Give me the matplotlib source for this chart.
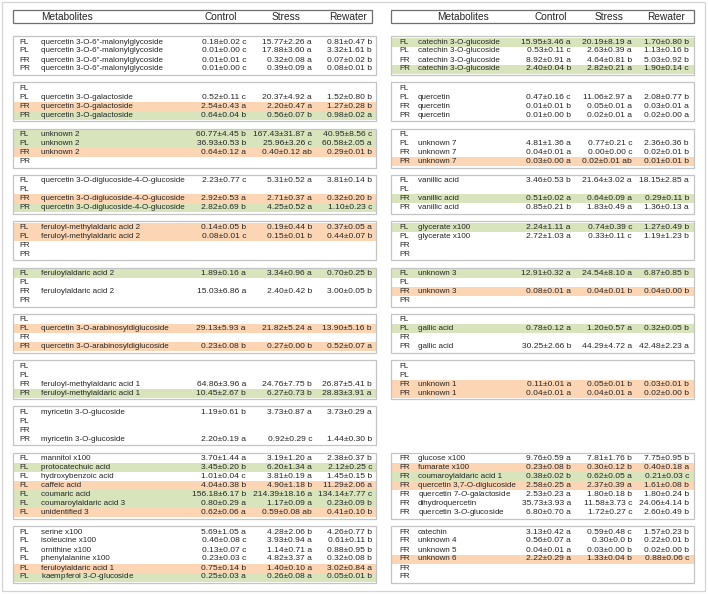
import matplotlib.pyplot as plt
from matplotlib.patches import Rectangle

# =============================================================================
# Table data
# =============================================================================
columns = ["Control", "Stress", "Rewater"]

# rows per block (same block slots on both sides)
left_group_sizes = [4, 4, 4, 4, 4, 4, 4, 4, 4, 7, 6]
right_group_sizes = [4, 4, 4, 4, 4, 4, 4, 4, 0, 7, 6]

left_code = ["FL", "PL", "FR", "PR"] * 9 + ["FL"] * 7 + ["PL"] * 6
left_name = (['quercetin 3-O-6"-malonylglycoside'] * 4
             + ["", "quercetin 3-O-galactoside", "quercetin 3-O-galactoside", "quercetin 3-O-galactoside"]
             + ["unknown 2", "unknown 2", "unknown 2", ""]
             + ["quercetin 3-O-diglucoside-4-O-glucoside", "", "quercetin 3-O-diglucoside-4-O-glucoside",
                "quercetin 3-O-diglucoside-4-O-glucoside"]
             + ["feruloyl-methylaldaric acid 2", "feruloyl-methylaldaric acid 2", "", ""]
             + ["feruloylaldaric acid 2", "", "feruloylaldaric acid 2", ""]
             + ["", "quercetin 3-O-arabinosyldiglucoside", "", "quercetin 3-O-arabinosyldiglucoside"]
             + ["", "", "feruloyl-methylaldaric acid 1", "feruloyl-methylaldaric acid 1"]
             + ["myricetin 3-O-glucoside", "", "", "myricetin 3-O-glucoside"]
             + ["mannitol x100", "protocatechuic acid", "hydroxybenzoic acid", "caffeic acid",
                "coumaric acid", "coumaroylaldaric acid 3", "unidentified 3"]
             + ["serine x100", "isoleucine x100", "ornithine x100", "phenylalanine x100",
                "feruloylaldaric acid 1", r"kaempferol 3-$\mathit{O}$-glucoside"])
left_control = ["0.18±0.02 c", "0.01±0.00 c", "0.01±0.01 c", "0.01±0.00 c",
                "", "0.52±0.11 c", "2.54±0.43 a", "0.64±0.04 b",
                "60.77±4.45 b", "36.93±0.53 b", "0.64±0.12 a", "",
                "2.23±0.77 c", "", "2.92±0.53 a", "2.82±0.69 b",
                "0.14±0.05 b", "0.08±0.01 c", "", "",
                "1.89±0.16 a", "", "15.03±6.86 a", "",
                "", "29.13±5.93 a", "", "0.23±0.08 b",
                "", "", "64.86±3.96 a", "10.45±2.67 b",
                "1.19±0.61 b", "", "", "2.20±0.19 a",
                "3.70±1.44 a", "3.45±0.20 b", "1.01±0.04 c", "4.04±0.38 b",
                "156.18±6.17 b", "0.80±0.29 a", "0.62±0.06 a",
                "5.69±1.05 a", "0.46±0.08 c", "0.13±0.07 c", "0.23±0.03 c",
                "0.75±0.14 b", "0.25±0.03 a"]
left_stress = ["15.77±2.26 a", "17.88±3.60 a", "0.32±0.08 a", "0.39±0.09 a",
               "", "20.37±4.92 a", "2.20±0.47 a", "0.56±0.07 b",
               "167.43±31.87 a", "25.96±3.26 c", "0.40±0.12 ab", "",
               "5.31±0.52 a", "", "2.71±0.37 a", "4.25±0.52 a",
               "0.19±0.44 b", "0.15±0.01 b", "", "",
               "3.34±0.96 a", "", "2.40±0.42 b", "",
               "", "21.82±5.24 a", "", "0.27±0.00 b",
               "", "", "24.76±7.75 b", "6.27±0.73 b",
               "3.73±0.87 a", "", "", "0.92±0.29 c",
               "3.19±1.20 a", "6.20±1.34 a", "3.81±0.19 a", "4.90±1.18 b",
               "214.39±18.16 a", "1.17±0.09 a", "0.59±0.08 ab",
               "4.28±2.06 b", "3.93±0.94 a", "1.14±0.71 a", "4.82±3.37 a",
               "1.40±0.10 a", "0.26±0.08 a"]
left_rewater = ["0.81±0.47 b", "3.32±1.61 b", "0.07±0.02 b", "0.08±0.01 b",
                "", "1.52±0.80 b", "1.27±0.28 b", "0.98±0.02 a",
                "40.95±8.56 c", "60.58±2.05 a", "0.29±0.01 b", "",
                "3.81±0.14 b", "", "0.32±0.20 b", "1.10±0.23 c",
                "0.37±0.05 a", "0.44±0.07 b", "", "",
                "0.70±0.25 b", "", "3.00±0.05 b", "",
                "", "13.90±5.16 b", "", "0.52±0.07 a",
                "", "", "26.87±5.41 b", "28.83±3.91 a",
                "3.73±0.29 a", "", "", "1.44±0.30 b",
                "2.38±0.37 b", "2.12±0.25 c", "1.45±0.15 b", "11.29±2.06 a",
                "134.14±7.77 c", "0.23±0.09 b", "0.41±0.10 b",
                "4.26±0.77 b", "0.61±0.11 b", "0.88±0.95 b", "0.32±0.08 b",
                "3.02±0.84 a", "0.05±0.01 b"]
# g = green, o = orange, - = none
left_shade = "----" "--og" "ggo-" "--og" "oo--" "g---" "-o-o" "---g" "----" "-g-oggo" "----og"

right_code = ["FL", "PL", "FR", "PR"] * 8 + ["FR"] * 13
right_name = (["catechin 3-O-glucoside"] * 4
              + ["", "quercetin", "quercetin", "quercetin"]
              + ["", "unknown 7", "unknown 7", "unknown 7"]
              + ["vanillic acid", "", "vanillic acid", "vanillic acid"]
              + ["glycerate x100", "glycerate x100", "", ""]
              + ["unknown 3", "", "unknown 3", ""]
              + ["", "gallic acid", "", "gallic acid"]
              + ["", "", "unknown 1", "unknown 1"]
              + ["glucose x100", "fumarate x100", "coumaroylaldaric acid 1", "quercetin 3,7-O-diglucoside",
                 r"quercetin 7-$\mathit{O}$-galactoside", "dihydroquercetin", r"quercetin 3-$\mathit{O}$-glucoside"]
              + ["catechin", "unknown 4", "unknown 5", "unknown 6", "", ""])
right_control = ["15.95±3.46 a", "0.53±0.11 c", "8.92±0.91 a", "2.40±0.04 b",
                 "", "0.47±0.16 c", "0.01±0.01 b", "0.01±0.00 b",
                 "", "4.81±1.36 a", "0.04±0.01 a", "0.03±0.00 a",
                 "3.46±0.53 b", "", "0.51±0.02 a", "0.85±0.21 b",
                 "2.24±1.11 a", "2.72±1.03 a", "", "",
                 "12.91±0.32 a", "", "0.08±0.01 a", "",
                 "", "0.78±0.12 a", "", "30.25±2.66 b",
                 "", "", "0.11±0.01 a", "0.04±0.01 a",
                 "9.76±0.59 a", "0.23±0.08 b", "0.38±0.02 b", "2.58±0.25 a",
                 "2.53±0.23 a", "35.73±3.93 a", "6.80±0.70 a",
                 "3.13±0.42 a", "0.56±0.07 a", "0.04±0.01 a", "2.22±0.29 a", "", ""]
right_stress = ["20.19±8.19 a", "2.63±0.39 a", "4.64±0.81 b", "2.82±0.21 a",
                "", "11.06±2.97 a", "0.05±0.01 a", "0.02±0.01 a",
                "", "0.77±0.21 c", "0.00±0.00 c", "0.02±0.01 ab",
                "21.64±3.02 a", "", "0.64±0.09 a", "1.83±0.49 a",
                "0.74±0.39 c", "0.33±0.11 c", "", "",
                "24.54±8.10 a", "", "0.04±0.01 b", "",
                "", "1.20±0.57 a", "", "44.29±4.72 a",
                "", "", "0.05±0.01 b", "0.04±0.01 a",
                "7.81±1.76 b", "0.30±0.12 b", "0.62±0.05 a", "2.37±0.39 a",
                "1.80±0.18 b", "11.58±3.73 c", "1.72±0.27 c",
                "0.59±0.48 c", "0.30±0.0 b", "0.03±0.00 b", "1.33±0.04 b", "", ""]
right_rewater = ["1.70±0.80 b", "1.13±0.16 b", "5.03±0.92 b", "1.90±0.14 c",
                 "", "2.08±0.77 b", "0.03±0.01 a", "0.02±0.00 a",
                 "", "2.36±0.36 b", "0.02±0.01 b", "0.01±0.01 b",
                 "18.15±2.85 a", "", "0.29±0.11 b", "1.36±0.13 a",
                 "1.27±0.49 b", "1.19±1.23 b", "", "",
                 "6.87±0.85 b", "", "0.04±0.00 b", "",
                 "", "0.32±0.05 b", "", "42.48±2.23 a",
                 "", "", "0.03±0.01 b", "0.02±0.00 b",
                 "7.75±0.95 b", "0.40±0.18 a", "0.21±0.03 c", "1.61±0.08 b",
                 "1.80±0.24 b", "24.06±4.14 b", "2.60±0.49 b",
                 "1.57±0.23 b", "0.22±0.01 b", "0.02±0.00 b", "0.88±0.06 c", "", ""]
right_shade = "g--g" "----" "---o" "--g-" "g---" "g-o-" "-g--" "--oo" "-ogo---" "---o--"

# =============================================================================
# Layout (pixel units)
# =============================================================================
GREEN = "#d8e4bc"
ORANGE = "#fcd5b4"
TXT = "#262626"
FS = 5.8
FS_VAL = 6.1
FS_HEAD = 7.3

row_h = 9.0
pad = 1.5
gap = 7.3
top0 = 36.0

left_panel = dict(x0=13, x1=376, hx1=372, code_x=19, name_x=41, val_x=[246, 312, 372],
                  head_name_x=41, head_x=[221, 286, 348])
right_panel = dict(x0=391, x1=694, hx1=694, code_x=399, name_x=418, val_x=[571, 632, 689],
                   head_name_x=437, head_x=[551, 609, 666])

plt.rcParams["font.family"] = ["Liberation Sans", "DejaVu Sans"]
plt.rcParams["mathtext.fontset"] = "custom"
plt.rcParams["mathtext.rm"] = "Liberation Sans"
plt.rcParams["mathtext.it"] = "Liberation Sans:italic"

fig = plt.figure(figsize=(7.08, 5.94), dpi=100, facecolor="w")
ax = fig.add_axes([0, 0, 1, 1])
ax.set_xlim(0, 708)
ax.set_ylim(594, 0)
ax.axis("off")

ax.add_patch(Rectangle((2, 2), 703, 589, fill=False, ec="#d4d4d4", lw=0.9))

# block tops shared by both sides
slot_rows = [max(a, b) for a, b in zip(left_group_sizes, right_group_sizes)]
slot_top = []
y = top0
for n in slot_rows:
    slot_top.append(y)
    y += n * row_h + 2 * pad + gap


def draw_panel(P, sizes, code, name, ctrl, strs, rew, shade):
    w = P["x1"] - P["x0"]
    # header
    ax.add_patch(Rectangle((P["x0"], 10), P["hx1"] - P["x0"], 13, fill=False, ec="#6e6e6e", lw=0.9))
    ax.text(P["head_name_x"], 16.8, "Metabolites", fontsize=FS_HEAD, color=TXT, va="center", ha="left")
    for hx, lab in zip(P["head_x"], columns):
        ax.text(hx, 16.8, lab, fontsize=FS_HEAD, color=TXT, va="center", ha="center")
    i = 0
    for g, n in enumerate(sizes):
        if n == 0:
            continue
        top = slot_top[g]
        for k in range(n):
            yc = top + pad + (k + 0.5) * row_h
            s = shade[i]
            if s in "go":
                ax.add_patch(Rectangle((P["x0"], yc - row_h / 2), w, row_h,
                                       fc=GREEN if s == "g" else ORANGE, ec="none"))
            ax.text(P["code_x"], yc, code[i], fontsize=FS, color=TXT, va="center", ha="left")
            ax.text(P["name_x"], yc, name[i], fontsize=FS, color=TXT, va="center", ha="left")
            for vx, v in zip(P["val_x"], (ctrl[i], strs[i], rew[i])):
                ax.text(vx, yc, v, fontsize=FS_VAL, color=TXT, va="center", ha="right")
            i += 1
        ax.add_patch(Rectangle((P["x0"], top), w, n * row_h + 2 * pad,
                               fill=False, ec="#c4c4c4", lw=0.9))


draw_panel(left_panel, left_group_sizes, left_code, left_name,
           left_control, left_stress, left_rewater, left_shade)
draw_panel(right_panel, right_group_sizes, right_code, right_name,
           right_control, right_stress, right_rewater, right_shade)

plt.savefig("out.png", dpi=100, facecolor="w")
